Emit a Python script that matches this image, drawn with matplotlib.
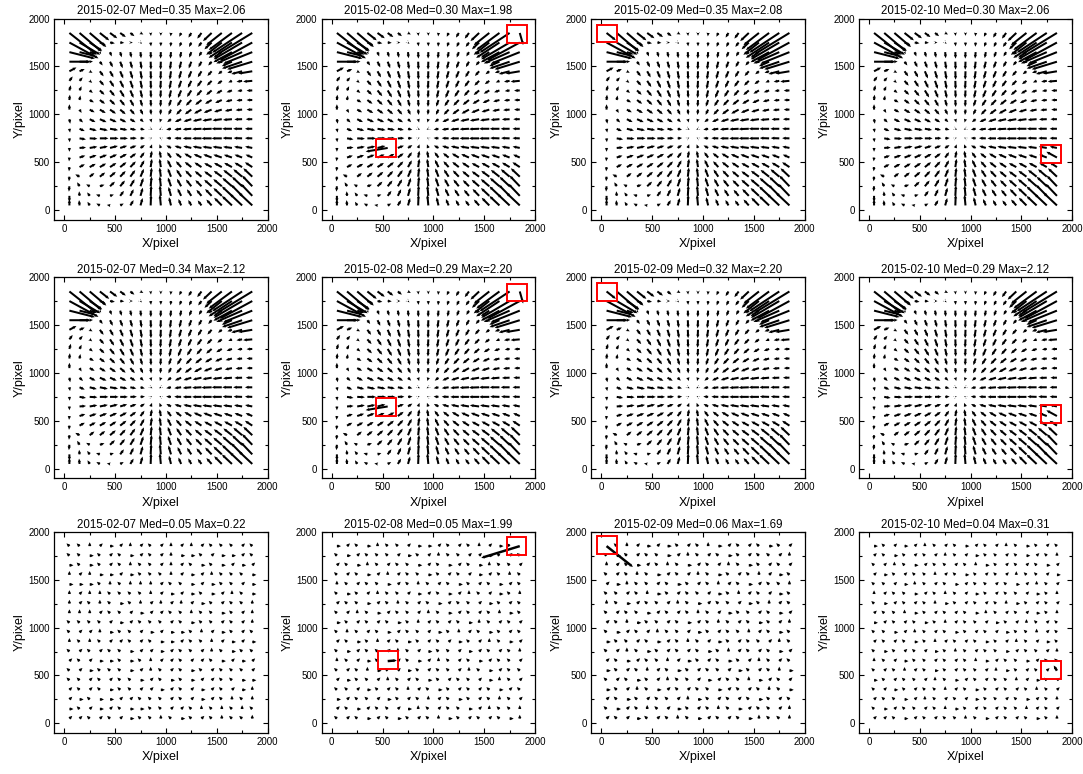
import numpy as np
import matplotlib.pyplot as plt
from matplotlib.patches import Rectangle

plt.rcParams['font.family'] = ['Liberation Sans', 'DejaVu Sans']

grid_x = [50, 150, 250, 350, 450, 550, 650, 750, 850, 950,
          1050, 1150, 1250, 1350, 1450, 1550, 1650, 1750, 1850]
grid_y = [1850, 1750, 1650, 1550, 1450, 1350, 1250, 1150, 1050, 950,
          850, 750, 650, 550, 450, 350, 250, 150, 50]

dates = ['2015-02-07', '2015-02-08', '2015-02-09', '2015-02-10']
med_vals = [[0.35, 0.30, 0.35, 0.30],
            [0.34, 0.29, 0.32, 0.29],
            [0.05, 0.05, 0.06, 0.04]]
max_vals = [[2.06, 1.98, 2.08, 2.06],
            [2.12, 2.20, 2.20, 2.12],
            [0.22, 1.99, 1.69, 0.31]]

# distortion field (rows 1-2): arrow direction in degrees, rows from y=1850 down to y=50
top_angle = [
    [-40, -42, -42, -40, -38, -38, -40, -30, -85, -90, -95, -115, -120, -125, -135, -140, -142, -145, -147],
    [-30, -32, -35, -25, -10, -5, 0, -45, -85, -90, -95, -110, -115, -125, -135, -140, -145, -148, -150],
    [-15, -15, -20, -60, -70, -75, -80, -85, -88, -92, -95, -100, -110, -120, -135, -145, -150, -155, -157],
    [0, 0, 5, -55, -65, -70, -75, -82, -88, -92, -97, -103, -110, -118, -130, -150, -155, -160, -162],
    [30, 25, -30, -55, -62, -68, -74, -81, -88, -92, -98, -105, -112, -120, -130, -140, -160, -165, -170],
    [55, 50, -40, -50, -58, -65, -72, -80, -88, -93, -100, -108, -115, -125, -133, -142, -155, -170, -175],
    [75, 65, -40, -45, -52, -60, -68, -78, -87, -93, -102, -112, -122, -130, -138, -148, -160, -172, -178],
    [85, 80, -30, -38, -45, -52, -62, -75, -87, -93, -108, -122, -132, -140, -148, -155, -165, -175, 180],
    [90, -60, -30, -32, -36, -42, -50, -65, -85, -95, -115, -132, -142, -150, -157, -162, -168, -175, 180],
    [-80, -45, -28, -25, -25, -28, -32, -45, -75, -105, -140, -155, -162, -167, -170, -172, -175, -178, 180],
    [-80, -25, -15, -12, -10, -10, -12, -15, -30, -150, -168, -172, -175, -177, -178, 180, 180, 180, 180],
    [-85, -10, -3, 0, 0, 0, 2, 5, 30, 150, 175, 178, 180, 180, 180, 180, 178, 178, 178],
    [-90, 5, 10, 12, 15, 18, 22, 35, 70, 110, 150, 162, 167, 170, 172, 172, 172, 170, 168],
    [-95, 20, 20, 22, 25, 30, 38, 55, 80, 100, 125, 140, 148, 155, 158, 160, 160, 158, 155],
    [-95, 30, 30, 32, 35, 40, 48, 62, 82, 98, 115, 130, 140, 145, 150, 150, 150, 148, 145],
    [-95, 150, 40, 40, 42, 48, 55, 68, 84, 97, 110, 122, 132, 138, 142, 142, 140, 138, 135],
    [-95, 120, 150, 20, 45, 52, 60, 72, 85, 96, 108, 118, 127, 133, 137, 138, 137, 135, 132],
    [-90, 95, 125, 160, 20, 55, 65, 75, 87, 95, 105, 115, 122, 128, 132, 135, 135, 133, 132],
    [90, 95, 120, 150, 170, 30, 60, 75, 88, 95, 103, 112, 118, 125, 130, 133, 135, 135, 135],
]
# arrow size in pixel
top_length = [
    [1.75, 1.45, 1.10, 0.60, 0.45, 0.35, 0.26, 0.16, 0.16, 0.15, 0.18, 0.22, 0.28, 0.36, 0.60, 1.00, 1.45, 1.80, 2.06],
    [1.65, 1.20, 0.75, 0.32, 0.24, 0.20, 0.12, 0.10, 0.20, 0.20, 0.22, 0.24, 0.26, 0.28, 0.50, 1.00, 1.40, 1.65, 1.85],
    [1.30, 0.80, 0.35, 0.12, 0.24, 0.28, 0.30, 0.32, 0.34, 0.34, 0.34, 0.32, 0.30, 0.26, 0.20, 0.50, 1.05, 1.40, 1.55],
    [1.00, 0.55, 0.16, 0.24, 0.32, 0.36, 0.38, 0.40, 0.42, 0.42, 0.42, 0.40, 0.37, 0.32, 0.26, 0.16, 0.55, 1.05, 1.30],
    [0.40, 0.28, 0.16, 0.32, 0.36, 0.40, 0.42, 0.44, 0.44, 0.44, 0.44, 0.42, 0.40, 0.36, 0.32, 0.24, 0.24, 0.55, 0.70],
    [0.28, 0.24, 0.16, 0.32, 0.38, 0.42, 0.44, 0.44, 0.44, 0.44, 0.44, 0.42, 0.40, 0.38, 0.34, 0.28, 0.20, 0.28, 0.45],
    [0.28, 0.24, 0.20, 0.32, 0.38, 0.42, 0.42, 0.42, 0.40, 0.40, 0.42, 0.42, 0.40, 0.38, 0.36, 0.32, 0.28, 0.24, 0.28],
    [0.28, 0.24, 0.24, 0.32, 0.36, 0.38, 0.38, 0.36, 0.36, 0.36, 0.36, 0.38, 0.40, 0.40, 0.38, 0.36, 0.32, 0.28, 0.28],
    [0.28, 0.20, 0.28, 0.34, 0.36, 0.36, 0.34, 0.30, 0.28, 0.28, 0.30, 0.36, 0.40, 0.42, 0.42, 0.40, 0.36, 0.32, 0.28],
    [0.24, 0.24, 0.32, 0.36, 0.36, 0.34, 0.30, 0.22, 0.18, 0.18, 0.24, 0.34, 0.40, 0.44, 0.46, 0.46, 0.44, 0.38, 0.32],
    [0.20, 0.28, 0.36, 0.40, 0.40, 0.36, 0.30, 0.22, 0.10, 0.10, 0.24, 0.34, 0.42, 0.46, 0.50, 0.50, 0.48, 0.44, 0.36],
    [0.20, 0.32, 0.38, 0.42, 0.42, 0.38, 0.32, 0.22, 0.08, 0.08, 0.24, 0.34, 0.42, 0.46, 0.50, 0.50, 0.46, 0.42, 0.36],
    [0.20, 0.32, 0.38, 0.40, 0.40, 0.36, 0.32, 0.26, 0.20, 0.20, 0.26, 0.34, 0.40, 0.44, 0.46, 0.46, 0.44, 0.40, 0.36],
    [0.20, 0.30, 0.36, 0.38, 0.38, 0.38, 0.36, 0.34, 0.36, 0.36, 0.34, 0.36, 0.40, 0.42, 0.44, 0.44, 0.42, 0.40, 0.36],
    [0.22, 0.30, 0.34, 0.36, 0.38, 0.40, 0.40, 0.40, 0.44, 0.44, 0.42, 0.40, 0.42, 0.42, 0.42, 0.44, 0.44, 0.44, 0.44],
    [0.24, 0.24, 0.30, 0.34, 0.38, 0.40, 0.42, 0.44, 0.48, 0.48, 0.46, 0.44, 0.44, 0.44, 0.46, 0.50, 0.55, 0.58, 0.62],
    [0.28, 0.24, 0.20, 0.24, 0.34, 0.38, 0.42, 0.46, 0.52, 0.52, 0.48, 0.44, 0.44, 0.44, 0.50, 0.56, 0.64, 0.70, 0.75],
    [0.32, 0.24, 0.22, 0.20, 0.20, 0.32, 0.38, 0.44, 0.55, 0.55, 0.48, 0.42, 0.40, 0.40, 0.48, 0.58, 0.70, 0.80, 0.85],
    [0.32, 0.28, 0.22, 0.20, 0.16, 0.20, 0.32, 0.40, 0.56, 0.56, 0.44, 0.36, 0.32, 0.32, 0.40, 0.55, 0.70, 0.85, 0.95],
]

# residual ticks (row 3), one char per grid point; '~' stands for a back-slash tick
tick_dir = {'-': 0, '/': 45, '|': 90, '~': 135}
ticks_0207 = ["~~|/-/|/~/|/|/~~~/~", "~~-~/~-/~/|--~/--/~", "-~-~/~|~~/|/~-~-/-/",
              "|/|--/-~~~|/-/|~~~-", "---~|~|||/~~-/-~~/-", "|/||~~~~|/-/-~-/|~-",
              "|/~|~-~|/|/|/-~/~~|", "|||/~~/-//~~|~~-~/|", "~~~~/-/~~~/~-~~/~/|",
              "~//|-~~/-/--~|/-~/~", "|~|~//~/~--/~~|/-/-", "~/~/~~-//-/~~/|~-~~",
              "/~/--~-~|//~//~-/-/", "~/-~~~-/|~/~-~/~~~/", "~~/~/~~-/~-~-//~~--",
              "/~/~-~~//-/~/-/~/-|", "/-~--//~~~/~/-/~|~|", "-~/-/~--~~//~|~|~|~",
              "//~/~/-~~|~-~/~|~~|"]
ticks_0208 = ["-/~-|~~/--/~/~|/-~/", "~-/~~~/-~/|~~//-~/~", "/~-|~/~~-/~-/~-|~~/",
              "~/~-/|/~~-~/~/-/~|~", "|~/~~-/~|~/~-~/~-/~", "~-~/|~~/-/~-/|~/-~|",
              "/~~-/~|~/~-/~~/-~/~", "~/|~-/~~/|~-/~/~|-~", "-~/~/~-~|/~/~-|~/~/",
              "~|~/~-/~~/-~|/~-~/~", "/~-~|/~-~/~/-~/|~-/", "~-/~~/|~/-~~/-/~/~|",
              "|~/-~~/~-/|~/~-/~~/", "~/~|-~/-~/~~/|~-/~~", "/-~~/|~/~-~/~~/-|~/",
              "~~/-~/~|/~-~/~/~-/~", "-/~~/-~/~|/~-~/~|~/", "/~-/~~/-|~/~~-/|~~|",
              "~/~-/~-~/~|-~/~/~-|"]
ticks_0209 = ["/~|/-/-~/~|-/~/~-~/", "~-~/~~-/|~/~-~/~~/|", "|/~-/~|~-/~/|~-~/~/",
              "~/~|~-/~/|~-~/~|/-~", "/-|~~/~-~/~|/~-/~~|", "~~/~|-~/~~/-~|/~/-~",
              "|~-/~~/|~-/~~/-~|/~", "~/~~-/~/~|~/-~~/~-/", "/~|-~~/~-/~|~/~-~/|",
              "~-/~/|~~/-~/~~|/~-~", "-~~/~-/~|~/-~/~~/|~", "~/|~-~/~/~-~|/~/~-/",
              "/~-/~~|/-~/~-~/|~/~", "-~/~|/~-~/~~/-~/~|-", "~/~-~/|~~/-/~~|-/~/",
              "-~/|~-/~/~~-/~/~|~-", "/~-~/~~/|-~/~/~-~/~", "~-/~|~/-~/~|~-/~~/|",
              "/~/-~/~|~-/~/~-|~~|"]
ticks_0210 = ["-~/-/|~/~-/~/|~-~/~", "/~-~/~/|~/-~~/~-/~|", "~/|~-/~~/~|-~/~/~-/",
              "/-~/~~|/~-~/~/|~~/-", "~~/-|~/~-/~~/~-/|~/", "|/~~-/~|~/-~/~~/-~|",
              "~-/~/~|-~/~/~|-~/~/", "/~~|-~/~/~-|~/~/-~|", "-/~/~-~|/~~/-~/|~/~",
              "~~-/|~/~-~/~/-~~|/~", "/~/~-~|/~/~-~/|~/-~", "~-~/~/-~|~/~~-/~~/|",
              "|~/-~~/~/~|-/~~-/~~", "~/~|/~-~/~~/|-~/~/~", "-~/~~/|~-/~/~~|/-~/",
              "~/-~/~~|/~-~/~/~|~/", "/~~-/|~/~/-~~/~-/~|", "~-/~~/~|-~/~/~~|/~/",
              "//~-/~/~~|~-/~/~-~|"]
tick_sets = [ticks_0207, ticks_0208, ticks_0209, ticks_0210]
tick_length = [0.20, 0.20, 0.21, 0.19]

# flagged points: (row, col) of panel -> (x, y, direction deg, size px)
flagged = {
    (0, 1): [(1850, 1850, -75, 0.65), (550, 650, 190, 1.10)],
    (1, 1): [(1850, 1850, -75, 0.65), (550, 650, 190, 1.10)],
    (0, 2): [(50, 1850, -40, 0.60)],
    (1, 2): [(50, 1850, -40, 0.60)],
    (0, 3): [(1850, 550, 150, 0.60)],
    (1, 3): [(1850, 550, 150, 0.60)],
    (2, 1): [(1850, 1850, 198, 1.99), (550, 650, 5, 0.45)],
    (2, 2): [(50, 1850, -40, 1.69)],
    (2, 3): [(1850, 550, 120, 0.31)],
}
# red box centres
boxes = {
    (0, 1): [(1822, 1840), (530, 648)],
    (1, 1): [(1822, 1840), (530, 648)],
    (0, 2): [(58, 1845)],
    (1, 2): [(58, 1845)],
    (0, 3): [(1795, 590)],
    (1, 3): [(1795, 575)],
    (2, 1): [(1818, 1853), (556, 663)],
    (2, 2): [(50, 1858)],
    (2, 3): [(1795, 553)],
}

X, Y = np.meshgrid(grid_x, grid_y)

fig = plt.figure(figsize=(10.83, 7.74), dpi=100)
lefts = [0.050, 0.297, 0.546, 0.793]
bottoms = [0.716, 0.382, 0.053]

for i in range(3):
    for j in range(4):
        ax = fig.add_axes([lefts[j], bottoms[i], 0.197, 0.26])
        if i < 2:
            ang = np.radians(np.array(top_angle, dtype=float))
            L = np.array(top_length, dtype=float)
            style = dict(width=0.0095, headwidth=1.6, headlength=1.8, headaxislength=1.7)
        else:
            rows = tick_sets[j]
            ang = np.radians(np.array([[tick_dir[c] for c in r] for r in rows], dtype=float))
            L = np.full(ang.shape, tick_length[j])
            style = dict(width=0.0115, headwidth=1.3, headlength=1.3, headaxislength=1.3)
        U = L * np.cos(ang)
        V = L * np.sin(ang)
        for (fx, fy, fa, fl) in flagged.get((i, j), []):
            r = grid_y.index(fy)
            c = grid_x.index(fx)
            U[r, c] = fl * np.cos(np.radians(fa))
            V[r, c] = fl * np.sin(np.radians(fa))

        ax.quiver(X, Y, U, V, angles='xy', scale_units='xy', scale=1 / 200.,
                  pivot='tail', color='black', minlength=0.3, minshaft=0.5, **style)
        for (bx, by) in boxes.get((i, j), []):
            ax.add_patch(Rectangle((bx - 98, by - 93), 196, 186, fill=False,
                                   edgecolor='red', linewidth=1.4, zorder=5))

        ax.set_xlim(-100, 2000)
        ax.set_ylim(-100, 2000)
        ax.set_xticks([0, 500, 1000, 1500, 2000])
        ax.set_yticks([0, 500, 1000, 1500, 2000])
        ax.set_xticks([250, 750, 1250, 1750], minor=True)
        ax.set_yticks([250, 750, 1250, 1750], minor=True)
        ax.tick_params(which='both', direction='in', top=True, right=True, labelsize=7, pad=3)
        ax.tick_params(which='major', length=3.5, width=0.8)
        ax.tick_params(which='minor', length=2, width=0.8)
        for s in ax.spines.values():
            s.set_linewidth(0.9)
        ax.set_xlabel('X/pixel', fontsize=9, labelpad=3)
        ax.set_ylabel('Y/pixel', fontsize=9, labelpad=2)
        ax.set_title('%s Med=%.2f Max=%.2f' % (dates[j], med_vals[i][j], max_vals[i][j]),
                     fontsize=8.3, pad=3)

fig.savefig('out.png', dpi=100)
